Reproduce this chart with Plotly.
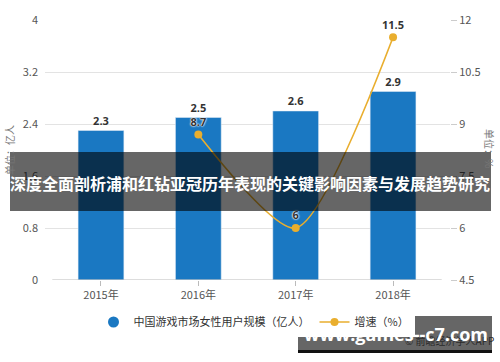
import plotly.graph_objects as go

years = ["2015年", "2016年", "2017年", "2018年"]
users = [2.3, 2.5, 2.6, 2.9]
growth_years = ["2016年", "2017年", "2018年"]
growth = [8.7, 6, 11.5]
left_ticks = [0, 0.8, 1.6, 2.4, 3.2, 4]
right_ticks = [4.5, 6, 7.5, 9, 10.5, 12]

bar_name = "中国游戏市场女性用户规模（亿人）"
line_name = "增速（%）"
left_title = "单位：亿人"
right_title = "单位：%"
banner = "深度全面剖析浦和红钻亚冠历年表现的关键影响因素与发展趋势研究"
site = "www.games--c7.com"
source = "© 前瞻经济学人APP"

FONT = "Noto Sans CJK SC, Open Sans, sans-serif"
BLUE = "#1A78C2"
GOLD = "#E9AE2E"

# plot area in pixels: x 45..450, y 20..280
L, R, T, B = 45, 450, 20, 280
W, H = R - L, B - T
def px(X):
    return (X - L) / W
def py(Y):
    return (B - Y) / H

fig = go.Figure()
fig.add_trace(go.Bar(
    x=years, y=users, marker_color=BLUE, showlegend=False,
    text=[str(v) for v in users], textposition="outside",
    textfont=dict(size=11, color="#333", family="Open Sans, sans-serif", weight="bold"),
    cliponaxis=False, yaxis="y"))
# legend proxy for bars (circle)
fig.add_trace(go.Scatter(x=[None], y=[None], mode="markers", name=bar_name,
                         marker=dict(color=BLUE, size=11, symbol="circle")))
fig.add_trace(go.Scatter(
    x=growth_years, y=growth, mode="lines+markers+text", name=line_name,
    line=dict(color=GOLD, width=1.6, shape="spline", smoothing=0.7),
    marker=dict(color=GOLD, size=8),
    text=[str(v) for v in growth], textposition="top center",
    textfont=dict(size=11, color="#333", family="Open Sans, sans-serif", weight="bold",
                  shadow="0px 0px 2px white, 0px 0px 2px white, 0px 0px 1px white"),
    cliponaxis=False, yaxis="y2"))

fig.update_layout(
    width=500, height=362,
    margin=dict(l=L, r=500 - R, t=T, b=362 - B, autoexpand=False),
    paper_bgcolor="white", plot_bgcolor="white",
    font=dict(family=FONT, color="#555", size=11),
    bargap=0.53,
    xaxis=dict(range=[-0.575, 3.585], showgrid=False, showline=False, ticks="outside",
               ticklen=5, tickcolor="#bbb", tickfont=dict(size=11, color="#555"),
               automargin=False),
    yaxis=dict(range=[0, 4], tickvals=left_ticks, ticktext=["0", "0.8", "1.6", "2.4", "3.2", "4"],
               showgrid=True, gridcolor="#e3e3e3", gridwidth=1, zeroline=False,
               tickfont=dict(size=11, color="#555"), ticklabelstandoff=6, automargin=False),
    yaxis2=dict(range=[4.5, 12], tickvals=right_ticks, overlaying="y", side="right",
                showgrid=False, zeroline=False, tickfont=dict(size=11, color="#555"),
                ticks="outside", ticklen=6, tickcolor="#ccc", automargin=False),
    legend=dict(orientation="h", x=px(254), xanchor="center", y=py(322), yanchor="middle",
                font=dict(size=11, color="#333"), tracegroupgap=0),
)

# axis titles
fig.add_annotation(xref="paper", yref="paper", x=px(9), y=py(150), xanchor="center", yanchor="middle",
                   text=left_title, textangle=-90, showarrow=False, font=dict(size=10, color="#777"))
fig.add_annotation(xref="paper", yref="paper", x=px(490), y=py(148), xanchor="center", yanchor="middle",
                   text=right_title, textangle=90, showarrow=False, font=dict(size=10, color="#777"))

# x axis baseline
fig.add_shape(type="line", xref="x", yref="y", x0=-0.5, x1=3.5, y0=0, y1=0,
              line=dict(color="#bbb", width=1))

# dark banner across middle
fig.add_shape(type="rect", xref="paper", yref="paper", x0=px(10), x1=px(491),
              y0=py(211), y1=py(152), fillcolor="rgba(0,0,0,0.6)", line_width=0, layer="above")
fig.add_annotation(xref="paper", yref="paper", x=px(250), y=py(183), xanchor="center", yanchor="middle",
                   text=banner, showarrow=False,
                   font=dict(size=16, color="white", family=FONT, weight="bold"))

# bottom-right watermark box
fig.add_shape(type="rect", xref="paper", yref="paper", x0=px(298), x1=px(492),
              y0=py(350), y1=py(316), fillcolor="rgba(0,0,0,0.6)", line_width=0, layer="above")
fig.add_shape(type="rect", xref="paper", yref="paper", x0=px(298), x1=px(492),
              y0=py(353), y1=py(350), fillcolor="#111", line_width=0, layer="above")
fig.add_annotation(xref="paper", yref="paper", x=px(496), y=py(340), xanchor="right", yanchor="middle",
                   text=source, showarrow=False,
                   font=dict(size=10, color="#2a2a2a", family=FONT))
fig.add_annotation(xref="paper", yref="paper", x=px(396), y=py(334), xanchor="center", yanchor="middle",
                   text=site, showarrow=False,
                   font=dict(size=18, color="white", family="Open Sans, sans-serif", weight="bold"))

fig.write_html("out.html", config={"displayModeBar": False},
               post_script="document.body.style.margin='0px';document.body.style.overflow='hidden';")
